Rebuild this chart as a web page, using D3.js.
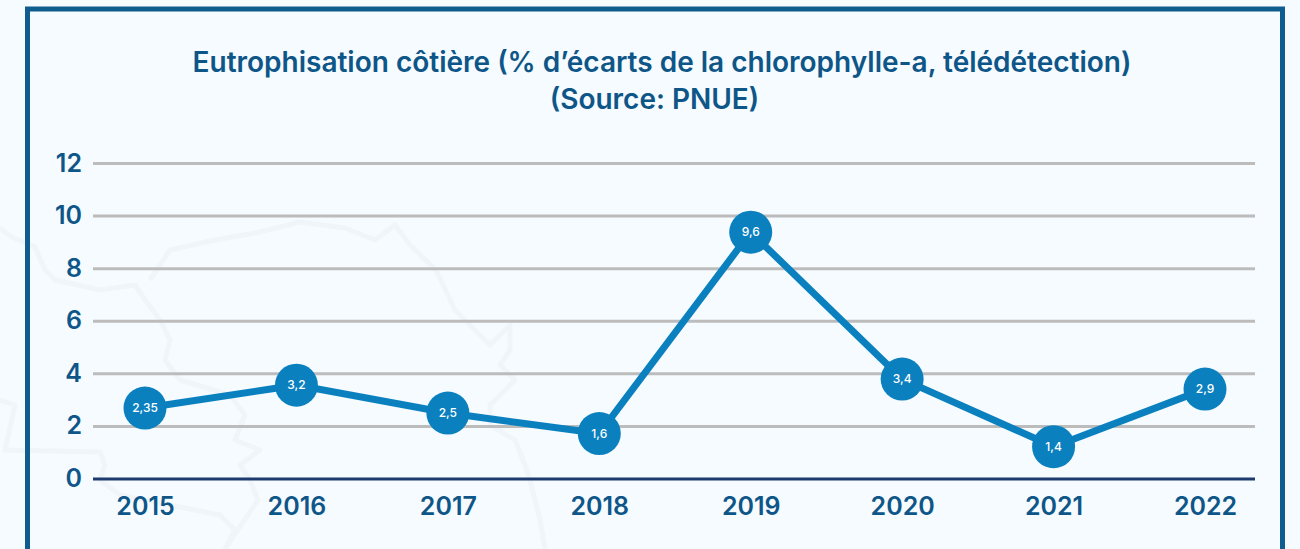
<!DOCTYPE html>
<html>
<head>
<meta charset="utf-8">
<script src="https://cdn.jsdelivr.net/npm/d3@7"></script>
<style>
    html, body { margin: 0; padding: 0; background: #f5fbff; overflow: hidden; }
    svg { display: block; }
    text { font-family: Inter, "Noto Sans", sans-serif; fill: #0e5688; }
</style>
</head>
<body>
<svg id="chart" width="1300" height="549"></svg>
<script>
// chart values
var years = ['2015', '2016', '2017', '2018', '2019', '2020', '2021', '2022'];
// where the points sit on the y axis
var values = [2.68, 3.55, 2.49, 1.71, 9.37, 3.78, 1.21, 3.4];
// what the bubbles say (the source labels differ a little from the plotted height)
var labels = ['2,35', '3,2', '2,5', '1,6', '9,6', '3,4', '1,4', '2,9'];
var yTicks = [0, 2, 4, 6, 8, 10, 12];
var titleLines = ['Eutrophisation côtière (% d\u2019écarts de la chlorophylle-a, télédétection)', '(Source: PNUE)'];

// faint map outline behind the chart, decoration only
var mapOutlines = [
    [[0, 228], [12, 237], [35, 247], [45, 270], [55, 280], [100, 290], [135, 285], [145, 300], [160, 320], [170, 340], [165, 360], [180, 380], [230, 395], [245, 415], [235, 440], [260, 450], [240, 465], [250, 480], [258, 500], [225, 549]],
    [[150, 280], [170, 250], [215, 240], [260, 232], [300, 222], [345, 228], [375, 240], [395, 225], [410, 245], [436, 270], [455, 310], [490, 345], [510, 325], [510, 350], [500, 365], [515, 380], [490, 405], [490, 425], [515, 440], [525, 465], [530, 480], [540, 520], [545, 549]],
    [[0, 400], [15, 405], [5, 450], [100, 452], [105, 465], [100, 480], [120, 495], [220, 515], [235, 530], [225, 549]]
];

var svg = d3.select('#chart');

var x = d3.scalePoint().domain(years).range([145, 1205]);
var y = d3.scaleLinear().domain([0, 12]).range([478.5, 163]);

svg.selectAll('path.map')
    .data(mapOutlines)
    .enter()
    .append('path')
    .attr('class', 'map')
    .attr('d', d3.line().curve(d3.curveLinear))
    .attr('fill', 'none')
    .attr('stroke', '#f0f5f9')
    .attr('stroke-width', 5)
    .attr('stroke-linejoin', 'round');

// frame, its bottom runs off the picture
svg.append('path')
    .attr('d', 'M27.5,560 L27.5,9 L1282.5,9 L1282.5,560')
    .attr('fill', 'none')
    .attr('stroke', '#0f5c8f')
    .attr('stroke-width', 5);

// the second line sits a little left of the first in the original
svg.selectAll('text.title')
    .data(titleLines)
    .enter()
    .append('text')
    .attr('class', 'title')
    .attr('x', function (d, i) { return i === 0 ? 662 : 654.5; })
    .attr('y', function (d, i) { return 72 + i * 37; })
    .attr('text-anchor', 'middle')
    .attr('font-size', 28)
    .attr('font-weight', 600)
    .text(function (d) { return d; });

// gridlines come from the axis ticks
var yAxis = svg.append('g')
    .attr('transform', 'translate(93,0)')
    .call(d3.axisLeft(y).tickValues(yTicks).tickSize(-1162).tickPadding(11));

yAxis.select('.domain').remove();
yAxis.selectAll('line')
    .attr('stroke', function (d) { return d === 0 ? '#1c3a6e' : '#bcbcbc'; })
    .attr('stroke-width', 3);
yAxis.selectAll('text')
    .attr('font-size', 25)
    .attr('font-weight', 600)
    .attr('font-family', null);

var xAxis = svg.append('g')
    .attr('transform', 'translate(0,478.5)')
    .call(d3.axisBottom(x).tickSize(0).tickPadding(19));

xAxis.select('.domain').remove();
xAxis.selectAll('text')
    .attr('font-size', 25)
    .attr('font-weight', 600)
    .attr('font-family', null);

var line = d3.line()
    .x(function (d, i) { return x(years[i]); })
    .y(function (d) { return y(d); });

svg.append('path')
    .datum(values)
    .attr('d', line)
    .attr('fill', 'none')
    .attr('stroke', '#0b80bf')
    .attr('stroke-width', 7);

var points = svg.selectAll('g.point')
    .data(values)
    .enter()
    .append('g')
    .attr('class', 'point')
    .attr('transform', function (d, i) { return 'translate(' + x(years[i]) + ',' + y(d) + ')'; });

points.append('circle')
    .attr('r', 21.5)
    .attr('fill', '#0b80bf');

points.append('text')
    .attr('text-anchor', 'middle')
    .attr('dy', 4)
    .attr('font-size', 12)
    .attr('font-weight', 500)
    .style('fill', '#fff')
    .text(function (d, i) { return labels[i]; });
</script>
</body>
</html>
